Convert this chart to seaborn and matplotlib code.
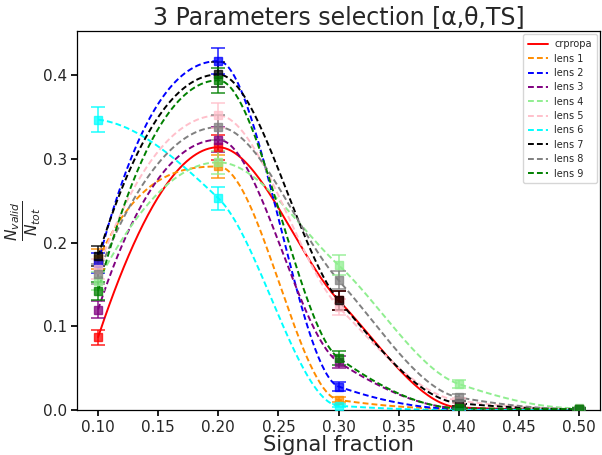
import numpy as np
import pandas as pd
import matplotlib
matplotlib.use("Agg")
import matplotlib.pyplot as plt
import seaborn as sns

signal_fraction = [0.1, 0.2, 0.3, 0.4, 0.5]

series_names = ["crpropa", "lens 1", "lens 2", "lens 3", "lens 4",
                "lens 5", "lens 6", "lens 7", "lens 8", "lens 9"]
series_colors = ["red", "darkorange", "blue", "purple", "lightgreen",
                 "pink", "cyan", "black", "grey", "green"]

crpropa = [0.087, 0.314, 0.131, 0.003, 0.000]
lens_1 = [0.180, 0.291, 0.012, 0.001, 0.000]
lens_2 = [0.176, 0.417, 0.028, 0.001, 0.000]
lens_3 = [0.120, 0.323, 0.057, 0.002, 0.000]
lens_4 = [0.154, 0.296, 0.173, 0.031, 0.002]
lens_5 = [0.169, 0.352, 0.123, 0.011, 0.001]
lens_6 = [0.347, 0.253, 0.005, 0.000, 0.000]
lens_7 = [0.184, 0.401, 0.131, 0.008, 0.001]
lens_8 = [0.163, 0.338, 0.155, 0.015, 0.001]
lens_9 = [0.142, 0.394, 0.062, 0.002, 0.001]

crpropa_err = [0.009, 0.015, 0.011, 0.002, 0.001]
lens_1_err = [0.012, 0.014, 0.003, 0.001, 0.001]
lens_2_err = [0.012, 0.016, 0.005, 0.001, 0.001]
lens_3_err = [0.010, 0.015, 0.007, 0.001, 0.001]
lens_4_err = [0.011, 0.014, 0.012, 0.005, 0.001]
lens_5_err = [0.012, 0.015, 0.010, 0.003, 0.001]
lens_6_err = [0.015, 0.014, 0.002, 0.001, 0.001]
lens_7_err = [0.012, 0.015, 0.011, 0.003, 0.001]
lens_8_err = [0.012, 0.015, 0.011, 0.004, 0.001]
lens_9_err = [0.011, 0.015, 0.008, 0.001, 0.001]

values = [crpropa, lens_1, lens_2, lens_3, lens_4,
          lens_5, lens_6, lens_7, lens_8, lens_9]
errors = [crpropa_err, lens_1_err, lens_2_err, lens_3_err, lens_4_err,
          lens_5_err, lens_6_err, lens_7_err, lens_8_err, lens_9_err]


def pchip_curve(x, y, n=300):
    """Shape-preserving piecewise cubic Hermite interpolation."""
    x = np.asarray(x, float)
    y = np.asarray(y, float)
    h = np.diff(x)
    delta = np.diff(y) / h
    d = np.zeros_like(y)
    for k in range(1, len(x) - 1):
        if delta[k - 1] * delta[k] > 0:
            w1 = 2 * h[k] + h[k - 1]
            w2 = h[k] + 2 * h[k - 1]
            d[k] = (w1 + w2) / (w1 / delta[k - 1] + w2 / delta[k])

    def end_slope(h0, h1, m0, m1):
        s = ((2 * h0 + h1) * m0 - h0 * m1) / (h0 + h1)
        if np.sign(s) != np.sign(m0):
            s = 0.0
        elif np.sign(m0) != np.sign(m1) and abs(s) > abs(3 * m0):
            s = 3 * m0
        return s

    d[0] = end_slope(h[0], h[1], delta[0], delta[1])
    d[-1] = end_slope(h[-1], h[-2], delta[-1], delta[-2])

    xs = np.linspace(x[0], x[-1], n)
    idx = np.clip(np.searchsorted(x, xs, side="right") - 1, 0, len(x) - 2)
    t = (xs - x[idx]) / h[idx]
    h00 = 2 * t**3 - 3 * t**2 + 1
    h10 = t**3 - 2 * t**2 + t
    h01 = -2 * t**3 + 3 * t**2
    h11 = t**3 - t**2
    ys = (h00 * y[idx] + h10 * h[idx] * d[idx]
          + h01 * y[idx + 1] + h11 * h[idx] * d[idx + 1])
    return xs, ys


sns.set_theme(style="ticks")
plt.rcParams["font.family"] = ["DejaVu Sans"]

fig = plt.figure(figsize=(6.02, 4.55), dpi=100)
ax = fig.add_axes([0.128, 0.099, 0.869, 0.833])

frames = []
for name, vals in zip(series_names, values):
    xs, ys = pchip_curve(signal_fraction, vals)
    frames.append(pd.DataFrame({"x": xs, "y": ys, "series": name}))
curves = pd.concat(frames, ignore_index=True)

palette = dict(zip(series_names, series_colors))
dashes = {n: ("" if n == "crpropa" else (3, 1.6)) for n in series_names}
sns.lineplot(data=curves, x="x", y="y", hue="series", style="series",
             palette=palette, dashes=dashes, linewidth=1.4, ax=ax,
             hue_order=series_names, style_order=series_names, sort=False)

for vals, errs, color in zip(values, errors, series_colors):
    ax.errorbar(signal_fraction, vals, yerr=errs, fmt="s", color=color,
                markersize=6, capsize=5, elinewidth=1.3, capthick=1.3,
                alpha=0.75, zorder=3)

ax.set_xlim(0.0825, 0.5175)
ax.set_ylim(0, 0.453)
ax.set_xticks([0.10, 0.15, 0.20, 0.25, 0.30, 0.35, 0.40, 0.45, 0.50])
ax.set_yticks([0.0, 0.1, 0.2, 0.3, 0.4])
ax.tick_params(labelsize=11, length=4, color="black", pad=3)
for s in ax.spines.values():
    s.set_visible(True)
    s.set_color("black")
    s.set_linewidth(0.9)

ax.set_title("3 Parameters selection [α,θ,TS]", fontsize=17, pad=5)
ax.set_xlabel("Signal fraction", fontsize=15, labelpad=0)
ax.set_ylabel(r"$\frac{N_{valid}}{N_{tot}}$", fontsize=16, labelpad=0)

leg = ax.legend(loc="upper right", fontsize=7, frameon=True,
                handlelength=2.0, handletextpad=0.7, borderpad=0.5,
                labelspacing=0.45, borderaxespad=0.35)
leg.set_title(None)

fig.savefig("out.png", dpi=100)
